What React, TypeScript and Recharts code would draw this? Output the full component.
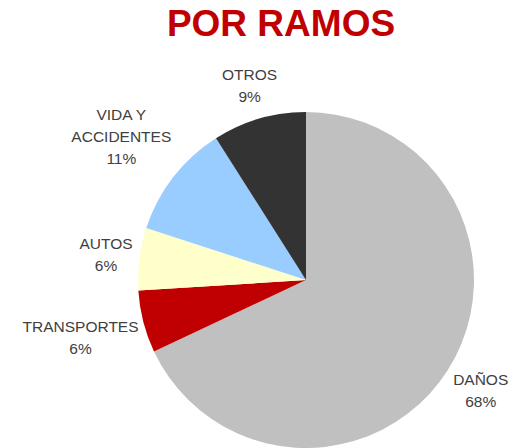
import React from "react";
import { PieChart, Pie, Cell } from "recharts";

const categories = ["DAÑOS", "TRANSPORTES", "AUTOS", "VIDA Y ACCIDENTES", "OTROS"];
const values = [68, 6, 6, 11, 9];
const labelLines = [["DAÑOS"], ["TRANSPORTES"], ["AUTOS"], ["VIDA Y", "ACCIDENTES"], ["OTROS"]];
const colors = ["#C0C0C0", "#C00000", "#FFFFCC", "#99CCFF", "#333333"];
const title = "POR RAMOS";

const data = categories.map((name, i) => ({ name, value: values[i], idx: i }));

const RADIAN = Math.PI / 180;
const LINE_H = 22;
const GAP = 6;

const renderLabel = (props: any) => {
  const { cx, cy, midAngle, outerRadius, index, value } = props;
  const lines = [...labelLines[index], `${value}%`];
  const maxChars = Math.max(...lines.map((l) => l.length));
  const w = maxChars * 10;
  const h = lines.length * LINE_H;
  const c = Math.cos(-midAngle * RADIAN);
  const s = Math.sin(-midAngle * RADIAN);
  const dist = outerRadius + GAP + (w / 2) * Math.abs(c) + (h / 2) * Math.abs(s);
  const x = cx + dist * c;
  const y = cy + dist * s;
  const n = lines.length;
  return (
    <text
      key={`lbl-${index}`}
      x={x}
      y={y}
      textAnchor="middle"
      fill="#404040"
      fontFamily="'Liberation Sans', Arial, sans-serif"
      fontSize={15.5}
    >
      {lines.map((l, i) => (
        <tspan key={i} x={x} y={y + (i - (n - 1) / 2) * LINE_H + 5}>
          {l}
        </tspan>
      ))}
    </text>
  );
};

export default function App() {
  return (
    <div style={{ position: "absolute", left: 0, top: 0, width: 527, height: 448, background: "#fff" }}>
      <svg width={527} height={60} style={{ position: "absolute", left: 0, top: 0 }}>
        <text
          x={281}
          y={36}
          textAnchor="middle"
          fill="#C00000"
          fontFamily="'Liberation Sans', Arial, sans-serif"
          fontWeight="bold"
          fontSize={37}
        >
          {title}
        </text>
      </svg>
      <div style={{ position: "absolute", left: 0, top: 0 }}>
        <PieChart width={527} height={448} margin={{ top: 0, right: 0, bottom: 0, left: 0 }}>
          <Pie
            data={data}
            dataKey="value"
            nameKey="name"
            cx={306}
            cy={280}
            outerRadius={168}
            startAngle={90}
            endAngle={-270}
            stroke="none"
            isAnimationActive={false}
            labelLine={false}
            label={renderLabel}
          >
            {data.map((d, i) => (
              <Cell key={d.name} fill={colors[i]} />
            ))}
          </Pie>
        </PieChart>
      </div>
    </div>
  );
}
